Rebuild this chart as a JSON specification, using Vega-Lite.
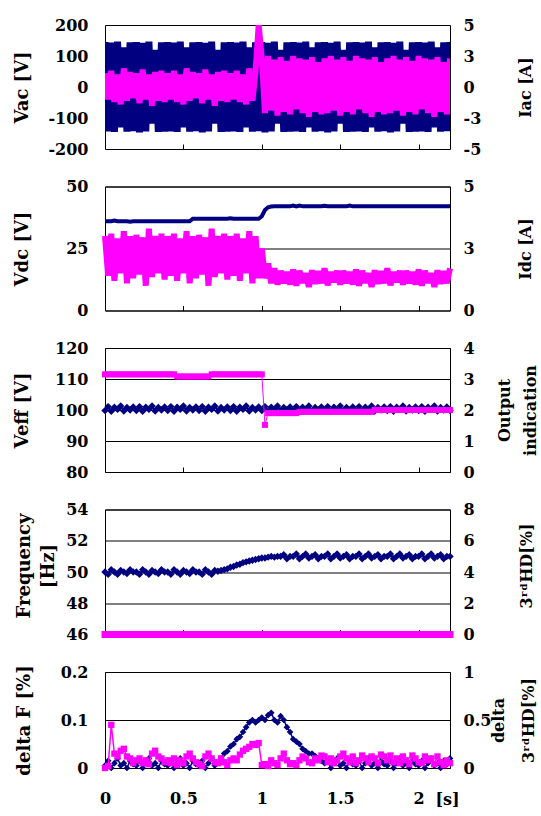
{
"$schema": "https://vega.github.io/schema/vega-lite/v6.json",
"background": "white",
"padding": {"left": 12, "top": 16, "right": 0, "bottom": 0},
"spacing": 37.5,
"bounds": "flush",
"config": {
  "view": {"stroke": "black", "strokeWidth": 1},
  "axis": {"labelFont": "DejaVu Serif", "labelFontWeight": "bold", "labelFontSize": 16, "labelColor": "black",
           "titleFont": "DejaVu Serif", "titleFontWeight": "bold", "titleColor": "black",
           "grid": false, "domain": false, "ticks": false, "labelFlush": false, "labelOverlap": false, "labelBound": false,
           "gridColor": "black", "gridOpacity": 1, "gridWidth": 1},
  "axisLeft": {"labelPadding": 17, "titleFontSize": 18, "titleBaseline": "middle", "titleAlign": "center", "titleAngle": -90},
  "axisRight": {"labelPadding": 13, "titleFontSize": 16, "titleBaseline": "middle", "titleAlign": "center", "titleAngle": -90}
},
"datasets": {"d": [
{"t":0,"vac":145,"iac":1.1,"idc":3,"vdc":36,"veff":99.8,"oi":3.15,"fr":50,"thd":0,"df":0.005,"dh":0},
{"t":0.02,"vac":-143,"iac":-1,"idc":1.4,"vdc":36,"veff":101.1,"oi":3.15,"fr":49.85,"thd":0,"df":0.015,"dh":0.02},
{"t":0.04,"vac":143,"iac":1.3,"idc":3.1,"vdc":36,"veff":99.6,"oi":3.15,"fr":50.15,"thd":0,"df":0,"dh":0.45},
{"t":0.06,"vac":-145,"iac":-1.2,"idc":1.2,"vdc":36.3,"veff":100.9,"oi":3.15,"fr":50,"thd":0,"df":0.01,"dh":0.15},
{"t":0.08,"vac":146,"iac":1,"idc":2.9,"vdc":36,"veff":100.2,"oi":3.15,"fr":49.85,"thd":0,"df":0.02,"dh":0.12},
{"t":0.1,"vac":-130,"iac":-1.4,"idc":1.5,"vdc":36,"veff":101.3,"oi":3.15,"fr":50.1,"thd":0,"df":0.005,"dh":0.18},
{"t":0.12,"vac":128,"iac":1.5,"idc":3.2,"vdc":36,"veff":99.7,"oi":3.15,"fr":50,"thd":0,"df":0.01,"dh":0.2},
{"t":0.14,"vac":-144,"iac":-1.1,"idc":1.1,"vdc":36,"veff":100.8,"oi":3.15,"fr":49.9,"thd":0,"df":0,"dh":0.12},
{"t":0.16,"vac":144,"iac":1.2,"idc":3,"vdc":35.8,"veff":100,"oi":3.15,"fr":50.15,"thd":0,"df":0.015,"dh":0.1},
{"t":0.18,"vac":-142,"iac":-0.9,"idc":1.3,"vdc":36,"veff":101,"oi":3.15,"fr":50,"thd":0,"df":0.008,"dh":0.05},
{"t":0.2,"vac":145,"iac":1.1,"idc":3.05,"vdc":36,"veff":99.8,"oi":3.15,"fr":50,"thd":0,"df":0.005,"dh":0.08},
{"t":0.22,"vac":-146,"iac":-1.3,"idc":1.45,"vdc":36,"veff":101.1,"oi":3.15,"fr":49.85,"thd":0,"df":0.015,"dh":0.1},
{"t":0.24,"vac":142,"iac":1.4,"idc":2.95,"vdc":36,"veff":99.6,"oi":3.15,"fr":50.15,"thd":0,"df":0,"dh":0.05},
{"t":0.26,"vac":-143,"iac":-1,"idc":1,"vdc":36,"veff":100.9,"oi":3.15,"fr":50,"thd":0,"df":0.01,"dh":0.08},
{"t":0.28,"vac":146,"iac":1,"idc":3.3,"vdc":36,"veff":100.2,"oi":3.15,"fr":49.85,"thd":0,"df":0.02,"dh":0.04},
{"t":0.3,"vac":-118,"iac":-1.5,"idc":1.35,"vdc":36,"veff":101.3,"oi":3.15,"fr":50.1,"thd":0,"df":0.005,"dh":0.15},
{"t":0.32,"vac":120,"iac":1.2,"idc":3,"vdc":36,"veff":99.7,"oi":3.15,"fr":50,"thd":0,"df":0.01,"dh":0.18},
{"t":0.34,"vac":-145,"iac":-1.1,"idc":1.5,"vdc":36,"veff":100.8,"oi":3.15,"fr":49.9,"thd":0,"df":0,"dh":0.12},
{"t":0.36,"vac":144,"iac":1.3,"idc":3.1,"vdc":36,"veff":100,"oi":3.15,"fr":50.15,"thd":0,"df":0.015,"dh":0.1},
{"t":0.38,"vac":-144,"iac":-1.2,"idc":1.25,"vdc":36,"veff":101,"oi":3.15,"fr":50,"thd":0,"df":0.008,"dh":0.06},
{"t":0.4,"vac":145,"iac":1.1,"idc":3,"vdc":36,"veff":99.8,"oi":3.15,"fr":50,"thd":0,"df":0.005,"dh":0.08},
{"t":0.42,"vac":-143,"iac":-1,"idc":1.4,"vdc":36,"veff":101.1,"oi":3.15,"fr":49.85,"thd":0,"df":0.015,"dh":0.05},
{"t":0.44,"vac":143,"iac":1.3,"idc":3.1,"vdc":36,"veff":99.6,"oi":3.15,"fr":50.15,"thd":0,"df":0,"dh":0.1},
{"t":0.46,"vac":-145,"iac":-1.2,"idc":1.2,"vdc":36,"veff":100.9,"oi":3.08,"fr":50,"thd":0,"df":0.01,"dh":0.03},
{"t":0.48,"vac":146,"iac":1,"idc":2.9,"vdc":36,"veff":100.2,"oi":3.08,"fr":49.85,"thd":0,"df":0.02,"dh":0.08},
{"t":0.5,"vac":-130,"iac":-1.4,"idc":1.5,"vdc":36,"veff":101.3,"oi":3.08,"fr":50.1,"thd":0,"df":0.005,"dh":0.05},
{"t":0.52,"vac":128,"iac":1.5,"idc":3.2,"vdc":36,"veff":99.7,"oi":3.08,"fr":50,"thd":0,"df":0.01,"dh":0.12},
{"t":0.54,"vac":-144,"iac":-1.1,"idc":1.1,"vdc":36,"veff":100.8,"oi":3.08,"fr":49.9,"thd":0,"df":0,"dh":0.15},
{"t":0.56,"vac":144,"iac":1.2,"idc":3,"vdc":37,"veff":100,"oi":3.08,"fr":50.15,"thd":0,"df":0.015,"dh":0.1},
{"t":0.58,"vac":-142,"iac":-0.9,"idc":1.3,"vdc":37,"veff":101,"oi":3.08,"fr":50,"thd":0,"df":0.008,"dh":0.06},
{"t":0.6,"vac":145,"iac":1.1,"idc":3.05,"vdc":37,"veff":99.8,"oi":3.08,"fr":50,"thd":0,"df":0.005,"dh":0.04},
{"t":0.62,"vac":-146,"iac":-1.3,"idc":1.45,"vdc":37,"veff":101.1,"oi":3.08,"fr":49.85,"thd":0,"df":0.015,"dh":0.02},
{"t":0.64,"vac":142,"iac":1.4,"idc":2.95,"vdc":37,"veff":99.6,"oi":3.08,"fr":50.15,"thd":0,"df":0,"dh":0.12},
{"t":0.66,"vac":-143,"iac":-1,"idc":1,"vdc":37,"veff":100.9,"oi":3.08,"fr":50,"thd":0,"df":0.01,"dh":0.15},
{"t":0.68,"vac":146,"iac":1,"idc":3.3,"vdc":37,"veff":100.2,"oi":3.15,"fr":49.85,"thd":0,"df":0.02,"dh":0.1},
{"t":0.7,"vac":-118,"iac":-1.5,"idc":1.35,"vdc":37,"veff":101.3,"oi":3.15,"fr":50.1,"thd":0,"df":0.005,"dh":0.06},
{"t":0.72,"vac":120,"iac":1.2,"idc":3,"vdc":37,"veff":99.7,"oi":3.15,"fr":50.05,"thd":0,"df":0.01,"dh":0.05},
{"t":0.74,"vac":-145,"iac":-1.1,"idc":1.5,"vdc":37,"veff":100.8,"oi":3.15,"fr":50.1,"thd":0,"df":0.02,"dh":0.1},
{"t":0.76,"vac":144,"iac":1.3,"idc":3.1,"vdc":37,"veff":100,"oi":3.15,"fr":50.15,"thd":0,"df":0.03,"dh":0.06},
{"t":0.78,"vac":-144,"iac":-1.2,"idc":1.25,"vdc":37,"veff":101,"oi":3.15,"fr":50.2,"thd":0,"df":0.035,"dh":0.03},
{"t":0.8,"vac":145,"iac":1.1,"idc":3,"vdc":37.2,"veff":99.8,"oi":3.15,"fr":50.3,"thd":0,"df":0.045,"dh":0.08},
{"t":0.82,"vac":-143,"iac":-1,"idc":1.4,"vdc":37,"veff":101.1,"oi":3.15,"fr":50.35,"thd":0,"df":0.05,"dh":0.1},
{"t":0.84,"vac":143,"iac":1.3,"idc":3.1,"vdc":37,"veff":99.6,"oi":3.15,"fr":50.45,"thd":0,"df":0.06,"dh":0.08},
{"t":0.86,"vac":-145,"iac":-1.2,"idc":1.2,"vdc":37,"veff":100.9,"oi":3.15,"fr":50.5,"thd":0,"df":0.065,"dh":0.14},
{"t":0.88,"vac":146,"iac":1,"idc":2.9,"vdc":37,"veff":100.2,"oi":3.15,"fr":50.6,"thd":0,"df":0.075,"dh":0.18},
{"t":0.9,"vac":-130,"iac":-1.4,"idc":1.5,"vdc":37,"veff":101.3,"oi":3.15,"fr":50.65,"thd":0,"df":0.085,"dh":0.2},
{"t":0.92,"vac":128,"iac":1.5,"idc":3.2,"vdc":37,"veff":99.7,"oi":3.15,"fr":50.7,"thd":0,"df":0.095,"dh":0.22},
{"t":0.94,"vac":-144,"iac":-1.1,"idc":1.1,"vdc":37,"veff":100.8,"oi":3.15,"fr":50.75,"thd":0,"df":0.1,"dh":0.25},
{"t":0.96,"vac":144,"iac":1.2,"idc":3,"vdc":37,"veff":100,"oi":3.15,"fr":50.8,"thd":0,"df":0.095,"dh":0.24},
{"t":0.98,"vac":-142,"iac":5,"idc":1.3,"vdc":37,"veff":101,"oi":3.15,"fr":50.85,"thd":0,"df":0.1,"dh":0.26},
{"t":1,"vac":145,"iac":2.3,"idc":2.5,"vdc":38,"veff":99.8,"oi":3.15,"fr":50.9,"thd":0,"df":0.105,"dh":0.03},
{"t":1.02,"vac":-146,"iac":-2.1,"idc":1.3,"vdc":40.5,"veff":101.1,"oi":1.52,"fr":50.9,"thd":0,"df":0.1,"dh":0.04},
{"t":1.04,"vac":142,"iac":2.5,"idc":1.9,"vdc":41.6,"veff":99.6,"oi":1.9,"fr":50.95,"thd":0,"df":0.11,"dh":0.02},
{"t":1.06,"vac":-143,"iac":-1.9,"idc":1.1,"vdc":41.9,"veff":100.9,"oi":1.9,"fr":51,"thd":0,"df":0.115,"dh":0.08},
{"t":1.08,"vac":146,"iac":2.2,"idc":1.7,"vdc":42,"veff":100.2,"oi":1.9,"fr":50.95,"thd":0,"df":0.1,"dh":0.05},
{"t":1.1,"vac":-118,"iac":-2.3,"idc":1.05,"vdc":42,"veff":101.3,"oi":1.9,"fr":51,"thd":0,"df":0.095,"dh":0.03},
{"t":1.12,"vac":120,"iac":2.4,"idc":1.6,"vdc":42,"veff":99.7,"oi":1.9,"fr":51,"thd":0,"df":0.108,"dh":0.1},
{"t":1.14,"vac":-145,"iac":-2,"idc":1.1,"vdc":42,"veff":100.8,"oi":1.9,"fr":51.1,"thd":0,"df":0.1,"dh":0.15},
{"t":1.16,"vac":144,"iac":2.1,"idc":1.55,"vdc":42,"veff":100,"oi":1.9,"fr":50.85,"thd":0,"df":0.085,"dh":0.08},
{"t":1.18,"vac":-144,"iac":-2.2,"idc":1.05,"vdc":42,"veff":101,"oi":1.9,"fr":51,"thd":0,"df":0.075,"dh":0.04},
{"t":1.2,"vac":145,"iac":2.5,"idc":1.65,"vdc":42.3,"veff":99.8,"oi":1.9,"fr":51,"thd":0,"df":0.06,"dh":0.05},
{"t":1.22,"vac":-143,"iac":-1.8,"idc":1,"vdc":42,"veff":101.1,"oi":1.9,"fr":51.15,"thd":0,"df":0.055,"dh":0.03},
{"t":1.24,"vac":143,"iac":2.3,"idc":1.6,"vdc":42.3,"veff":99.6,"oi":1.94,"fr":50.85,"thd":0,"df":0.05,"dh":0.08},
{"t":1.26,"vac":-145,"iac":-2.1,"idc":1.12,"vdc":42,"veff":100.9,"oi":1.94,"fr":51,"thd":0,"df":0.04,"dh":0.12},
{"t":1.28,"vac":146,"iac":2.2,"idc":1.5,"vdc":42,"veff":100.2,"oi":1.94,"fr":51.15,"thd":0,"df":0.035,"dh":0.1},
{"t":1.3,"vac":-130,"iac":-2.4,"idc":0.95,"vdc":42,"veff":101.3,"oi":1.94,"fr":50.9,"thd":0,"df":0.03,"dh":0.06},
{"t":1.32,"vac":128,"iac":2.4,"idc":1.62,"vdc":42,"veff":99.7,"oi":1.94,"fr":51,"thd":0,"df":0.03,"dh":0.05},
{"t":1.34,"vac":-144,"iac":-2,"idc":1.08,"vdc":42,"veff":100.8,"oi":1.94,"fr":51.1,"thd":0,"df":0.025,"dh":0.1},
{"t":1.36,"vac":144,"iac":2,"idc":1.58,"vdc":42,"veff":100,"oi":1.94,"fr":50.85,"thd":0,"df":0.02,"dh":0.08},
{"t":1.38,"vac":-142,"iac":-2.2,"idc":1.1,"vdc":42,"veff":101,"oi":1.94,"fr":51,"thd":0,"df":0.015,"dh":0.13},
{"t":1.4,"vac":145,"iac":2.3,"idc":1.7,"vdc":42.2,"veff":99.8,"oi":1.94,"fr":51,"thd":0,"df":0.01,"dh":0.12},
{"t":1.42,"vac":-146,"iac":-2.1,"idc":1.02,"vdc":42,"veff":101.1,"oi":1.94,"fr":51.15,"thd":0,"df":0.015,"dh":0.06},
{"t":1.44,"vac":142,"iac":2.5,"idc":1.55,"vdc":42,"veff":99.6,"oi":1.94,"fr":50.85,"thd":0,"df":0,"dh":0.1},
{"t":1.46,"vac":-143,"iac":-1.9,"idc":1.15,"vdc":42,"veff":100.9,"oi":1.94,"fr":51,"thd":0,"df":0.01,"dh":0.05},
{"t":1.48,"vac":146,"iac":2.2,"idc":1.6,"vdc":42,"veff":100.2,"oi":1.94,"fr":51.15,"thd":0,"df":0.02,"dh":0.08},
{"t":1.5,"vac":-118,"iac":-2.3,"idc":1.05,"vdc":42,"veff":101.3,"oi":1.94,"fr":50.9,"thd":0,"df":0.005,"dh":0.12},
{"t":1.52,"vac":120,"iac":2.4,"idc":1.6,"vdc":42,"veff":99.7,"oi":1.94,"fr":51,"thd":0,"df":0.01,"dh":0.15},
{"t":1.54,"vac":-145,"iac":-2,"idc":1.1,"vdc":42,"veff":100.8,"oi":1.94,"fr":51.1,"thd":0,"df":0,"dh":0.1},
{"t":1.56,"vac":144,"iac":2.1,"idc":1.55,"vdc":42.3,"veff":100,"oi":1.94,"fr":50.85,"thd":0,"df":0.015,"dh":0.06},
{"t":1.58,"vac":-144,"iac":-2.2,"idc":1.05,"vdc":42,"veff":101,"oi":1.94,"fr":51,"thd":0,"df":0.008,"dh":0.12},
{"t":1.6,"vac":145,"iac":2.5,"idc":1.65,"vdc":42,"veff":99.8,"oi":1.94,"fr":51,"thd":0,"df":0.005,"dh":0.05},
{"t":1.62,"vac":-143,"iac":-1.8,"idc":1,"vdc":42,"veff":101.1,"oi":1.94,"fr":51.15,"thd":0,"df":0.015,"dh":0.08},
{"t":1.64,"vac":143,"iac":2.3,"idc":1.6,"vdc":42,"veff":99.6,"oi":1.94,"fr":50.85,"thd":0,"df":0,"dh":0.13},
{"t":1.66,"vac":-145,"iac":-2.1,"idc":1.12,"vdc":42,"veff":100.9,"oi":1.94,"fr":51,"thd":0,"df":0.01,"dh":0.1},
{"t":1.68,"vac":146,"iac":2.2,"idc":1.5,"vdc":42,"veff":100.2,"oi":1.94,"fr":51.15,"thd":0,"df":0.02,"dh":0.06},
{"t":1.7,"vac":-130,"iac":-2.4,"idc":0.95,"vdc":42,"veff":101.3,"oi":1.94,"fr":50.9,"thd":0,"df":0.005,"dh":0.12},
{"t":1.72,"vac":128,"iac":2.4,"idc":1.62,"vdc":42,"veff":99.7,"oi":2,"fr":51,"thd":0,"df":0.01,"dh":0.1},
{"t":1.74,"vac":-144,"iac":-2,"idc":1.08,"vdc":42,"veff":100.8,"oi":2,"fr":51.1,"thd":0,"df":0,"dh":0.05},
{"t":1.76,"vac":144,"iac":2,"idc":1.58,"vdc":42,"veff":100,"oi":2,"fr":50.85,"thd":0,"df":0.015,"dh":0.14},
{"t":1.78,"vac":-142,"iac":-2.2,"idc":1.1,"vdc":42,"veff":101,"oi":2,"fr":51,"thd":0,"df":0.008,"dh":0.12},
{"t":1.8,"vac":145,"iac":2.3,"idc":1.7,"vdc":42,"veff":99.8,"oi":2,"fr":51,"thd":0,"df":0.005,"dh":0.08},
{"t":1.82,"vac":-146,"iac":-2.1,"idc":1.02,"vdc":42,"veff":101.1,"oi":2,"fr":51.15,"thd":0,"df":0.015,"dh":0.13},
{"t":1.84,"vac":142,"iac":2.5,"idc":1.55,"vdc":42,"veff":99.6,"oi":2,"fr":50.85,"thd":0,"df":0,"dh":0.06},
{"t":1.86,"vac":-143,"iac":-1.9,"idc":1.15,"vdc":42,"veff":100.9,"oi":2,"fr":51,"thd":0,"df":0.01,"dh":0.1},
{"t":1.88,"vac":146,"iac":2.2,"idc":1.6,"vdc":42,"veff":100.2,"oi":2,"fr":51.15,"thd":0,"df":0.02,"dh":0.05},
{"t":1.9,"vac":-118,"iac":-2.3,"idc":1.05,"vdc":42,"veff":101.3,"oi":2,"fr":50.9,"thd":0,"df":0.005,"dh":0.12},
{"t":1.92,"vac":120,"iac":2.4,"idc":1.6,"vdc":42,"veff":99.7,"oi":2,"fr":51,"thd":0,"df":0.01,"dh":0.08},
{"t":1.94,"vac":-145,"iac":-2,"idc":1.1,"vdc":42,"veff":100.8,"oi":2,"fr":51.1,"thd":0,"df":0,"dh":0.04},
{"t":1.96,"vac":144,"iac":2.1,"idc":1.55,"vdc":42,"veff":100,"oi":2,"fr":50.85,"thd":0,"df":0.015,"dh":0.13},
{"t":1.98,"vac":-144,"iac":-2.2,"idc":1.05,"vdc":42,"veff":101,"oi":2,"fr":51,"thd":0,"df":0.008,"dh":0.1},
{"t":2,"vac":145,"iac":2.5,"idc":1.65,"vdc":42,"veff":99.8,"oi":2,"fr":51,"thd":0,"df":0.005,"dh":0.06},
{"t":2.02,"vac":-143,"iac":-1.8,"idc":1,"vdc":42,"veff":101.1,"oi":2,"fr":51.15,"thd":0,"df":0.015,"dh":0.05},
{"t":2.04,"vac":143,"iac":2.3,"idc":1.6,"vdc":42,"veff":99.6,"oi":2,"fr":50.85,"thd":0,"df":0,"dh":0.12},
{"t":2.06,"vac":-145,"iac":-2.1,"idc":1.12,"vdc":42,"veff":100.9,"oi":2,"fr":51,"thd":0,"df":0.01,"dh":0.08},
{"t":2.08,"vac":146,"iac":2.2,"idc":1.5,"vdc":42,"veff":100.2,"oi":2,"fr":51.15,"thd":0,"df":0.02,"dh":0.1},
{"t":2.1,"vac":-130,"iac":-2.4,"idc":0.95,"vdc":42,"veff":101.3,"oi":2,"fr":50.9,"thd":0,"df":0.005,"dh":0.04},
{"t":2.12,"vac":128,"iac":2.4,"idc":1.62,"vdc":42,"veff":99.7,"oi":2,"fr":51,"thd":0,"df":0.01,"dh":0.12},
{"t":2.14,"vac":-144,"iac":-2,"idc":1.08,"vdc":42,"veff":100.8,"oi":2,"fr":51.1,"thd":0,"df":0,"dh":0.06},
{"t":2.16,"vac":144,"iac":2,"idc":1.58,"vdc":42,"veff":100,"oi":2,"fr":50.85,"thd":0,"df":0.015,"dh":0.03},
{"t":2.18,"vac":-142,"iac":-2.2,"idc":1.1,"vdc":42,"veff":101,"oi":2,"fr":51,"thd":0,"df":0.008,"dh":0.08},
{"t":2.2,"vac":145,"iac":2.3,"idc":1.7,"vdc":42,"veff":99.8,"oi":2,"fr":51,"thd":0,"df":0.02,"dh":0.05}
]},
"vconcat": [
{"width": 345, "height": 124, "data": {"name": "d"},
 "layer": [
  {"mark": {"type": "line", "color": "#000080", "strokeWidth": 7, "strokeJoin": "bevel", "clip": true},
   "encoding": {
    "x": {"field": "t", "type": "quantitative", "scale": {"domain": [0, 2.2], "nice": false},
          "axis": {"values": [0.5, 1, 1.5, 2], "labels": false, "ticks": true, "tickSize": 5, "offset": -5, "tickColor": "black", "title": null}},
    "y": {"field": "vac", "type": "quantitative", "scale": {"domain": [-200, 200], "nice": false},
          "axis": {"orient": "left", "values": [-200, -100, 0, 100, 200], "labelExpr": "datum.value < 0 ? '-' + format(-datum.value, '.0f') : format(datum.value, '.0f')", "title": "Vac [V]", "titleX": -83, "titleY": 62}}}},
  {"mark": {"type": "line", "color": "#FF00FF", "strokeWidth": 6, "strokeJoin": "bevel", "clip": true},
   "encoding": {
    "x": {"field": "t", "type": "quantitative"},
    "y": {"field": "iac", "type": "quantitative", "scale": {"domain": [-5, 5], "nice": false},
          "axis": {"orient": "right", "values": [-5, -2.5, 0, 2.5, 5], "labelExpr": "datum.value < 0 ? '-' + format(-datum.value, '.0f') : format(datum.value, '.0f')", "title": "Iac [A]", "titleX": 75, "titleY": 62}}}}
 ],
 "resolve": {"scale": {"y": "independent"}}},
{"width": 345, "height": 124, "data": {"name": "d"},
 "layer": [
  {"mark": {"type": "line", "color": "#000080", "strokeWidth": 4},
   "encoding": {
    "x": {"field": "t", "type": "quantitative", "scale": {"domain": [0, 2.2], "nice": false},
          "axis": {"values": [0.5, 1, 1.5, 2], "labels": false, "ticks": true, "tickSize": 5, "offset": -5, "tickColor": "black", "title": null}},
    "y": {"field": "vdc", "type": "quantitative", "scale": {"domain": [0, 50], "nice": false},
          "axis": {"orient": "left", "values": [0, 25, 50], "grid": true, "title": "Vdc [V]", "titleX": -83, "titleY": 62}}}},
  {"mark": {"type": "line", "color": "#FF00FF", "strokeWidth": 6, "strokeJoin": "bevel"},
   "encoding": {
    "x": {"field": "t", "type": "quantitative"},
    "y": {"field": "idc", "type": "quantitative", "scale": {"domain": [0, 5], "nice": false},
          "axis": {"orient": "right", "values": [0, 2.5, 5], "labelExpr": "format(datum.value, '.0f')", "title": "Idc [A]", "titleX": 75, "titleY": 62}}}}
 ],
 "resolve": {"scale": {"y": "independent"}}},
{"width": 345, "height": 124, "data": {"name": "d"},
 "layer": [
  {"mark": {"type": "line", "color": "#000080", "strokeWidth": 2, "point": {"shape": "diamond", "size": 55, "filled": true, "color": "#000080"}},
   "encoding": {
    "x": {"field": "t", "type": "quantitative", "scale": {"domain": [0, 2.2], "nice": false},
          "axis": {"values": [0.5, 1, 1.5, 2], "labels": false, "ticks": true, "tickSize": 5, "offset": -5, "tickColor": "black", "title": null}},
    "y": {"field": "veff", "type": "quantitative", "scale": {"domain": [80, 120], "nice": false, "zero": false},
          "axis": {"orient": "left", "values": [80, 90, 100, 110, 120], "grid": true, "title": "Veff [V]", "titleX": -83, "titleY": 62}}}},
  {"mark": {"type": "line", "color": "#FF00FF", "strokeWidth": 1, "point": {"shape": "square", "size": 36, "filled": true, "color": "#FF00FF"}},
   "encoding": {
    "x": {"field": "t", "type": "quantitative"},
    "y": {"field": "oi", "type": "quantitative", "scale": {"domain": [0, 4], "nice": false},
          "axis": {"orient": "right", "values": [0, 1, 2, 3, 4], "title": ["Output", "indication"], "titleLineHeight": 26, "titleX": 54, "titleY": 62}}}}
 ],
 "resolve": {"scale": {"y": "independent"}}},
{"width": 345, "height": 125, "data": {"name": "d"},
 "layer": [
  {"mark": {"type": "line", "color": "#000080", "strokeWidth": 2, "point": {"shape": "diamond", "size": 55, "filled": true, "color": "#000080"}},
   "encoding": {
    "x": {"field": "t", "type": "quantitative", "scale": {"domain": [0, 2.2], "nice": false},
          "axis": {"values": [0.5, 1, 1.5, 2], "labels": false, "ticks": true, "tickSize": 5, "offset": -5, "tickColor": "black", "title": null}},
    "y": {"field": "fr", "type": "quantitative", "scale": {"domain": [46, 54], "nice": false, "zero": false},
          "axis": {"orient": "left", "values": [46, 48, 50, 52, 54], "grid": true, "title": ["Frequency", "[Hz]"], "titleLineHeight": 24, "titleX": -81, "titleY": 56}}}},
  {"mark": {"type": "line", "color": "#FF00FF", "strokeWidth": 1, "point": {"shape": "square", "size": 49, "filled": true, "color": "#FF00FF"}},
   "encoding": {
    "x": {"field": "t", "type": "quantitative"},
    "y": {"field": "thd", "type": "quantitative", "scale": {"domain": [0, 8], "nice": false},
          "axis": {"orient": "right", "values": [0, 2, 4, 6, 8], "title": "3ʳᵈHD[%]", "titleX": 76, "titleY": 56}}}}
 ],
 "resolve": {"scale": {"y": "independent"}}},
{"width": 345, "height": 96, "data": {"name": "d"},
 "layer": [
  {"mark": {"type": "line", "color": "#000080", "strokeWidth": 1.5, "point": {"shape": "diamond", "size": 45, "filled": true, "color": "#000080"}},
   "encoding": {
    "x": {"field": "t", "type": "quantitative", "scale": {"domain": [0, 2.2], "nice": false},
          "axis": {"values": [0, 0.5, 1, 1.5, 2], "labelExpr": "toString(datum.value)", "labelPadding": 22, "title": "[s]", "titleX": 342, "titleY": 31, "titleBaseline": "middle", "titleAlign": "center", "titleFontSize": 16}},
    "y": {"field": "df", "type": "quantitative", "scale": {"domain": [0, 0.2], "nice": false},
          "axis": {"orient": "left", "values": [0, 0.1, 0.2], "labelExpr": "toString(datum.value)", "grid": true, "title": "delta F [%]", "titleX": -81, "titleY": 48}}}},
  {"mark": {"type": "line", "color": "#FF00FF", "strokeWidth": 1.5, "point": {"shape": "square", "size": 40, "filled": true, "color": "#FF00FF"}},
   "encoding": {
    "x": {"field": "t", "type": "quantitative"},
    "y": {"field": "dh", "type": "quantitative", "scale": {"domain": [0, 1], "nice": false},
          "axis": {"orient": "right", "values": [0, 0.5, 1], "labelExpr": "toString(datum.value)", "title": ["delta", "3ʳᵈHD[%]"], "titleLineHeight": 30, "titleX": 48, "titleY": 48}}}}
 ],
 "resolve": {"scale": {"y": "independent"}}}
]
}
